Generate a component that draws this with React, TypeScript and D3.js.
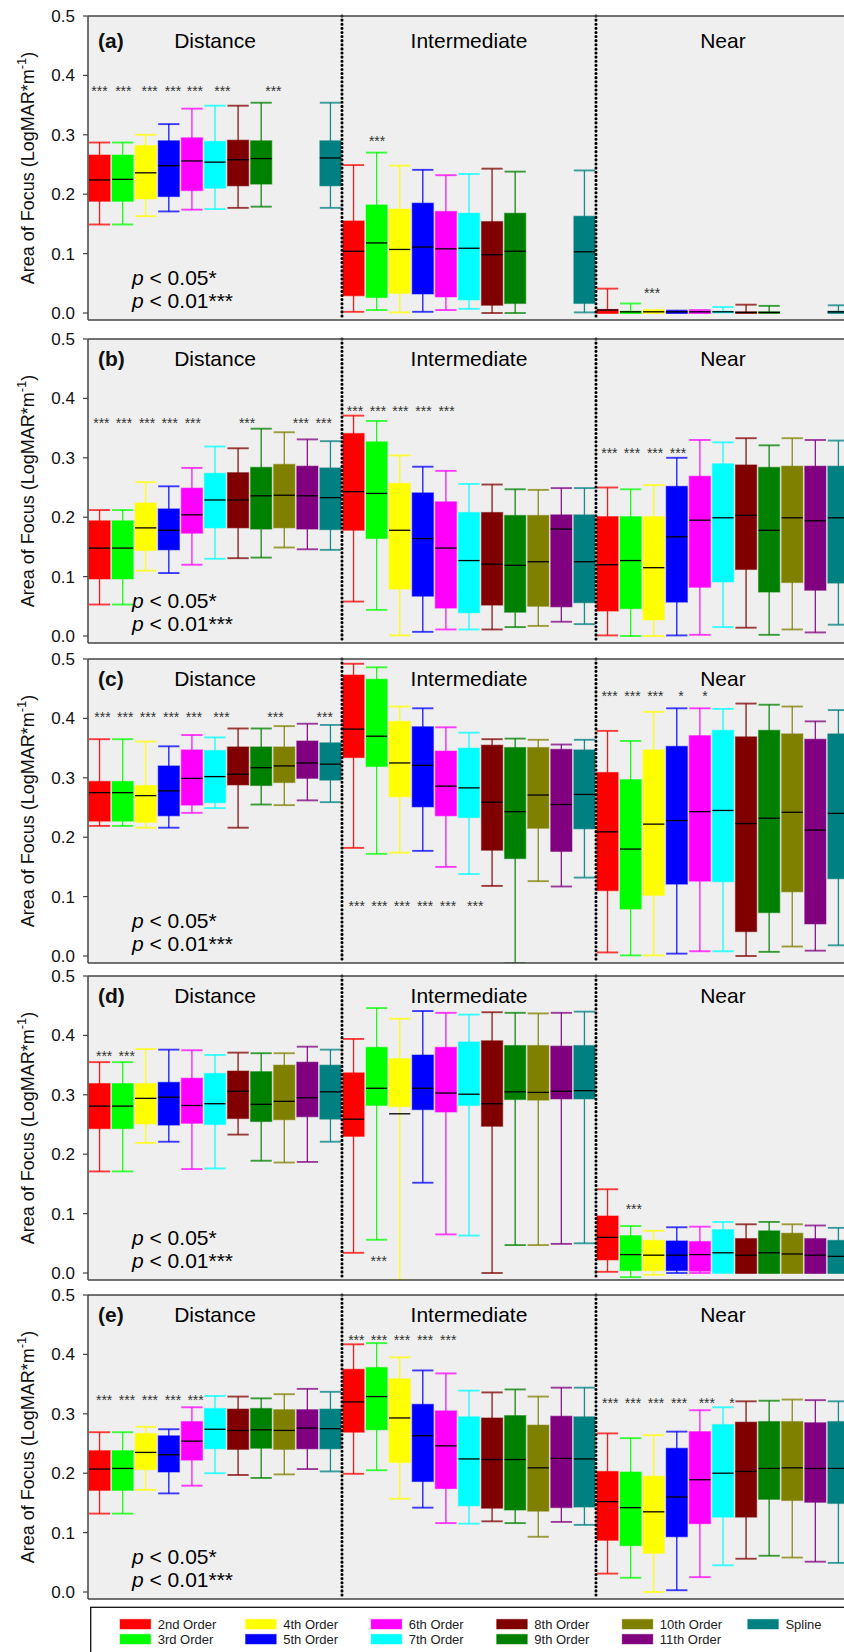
import React from 'react'
import { scaleLinear, scalePoint } from 'd3'

const orders = ['2nd Order', '3rd Order', '4th Order', '5th Order', '6th Order', '7th Order', '8th Order', '9th Order', '10th Order', '11th Order', 'Spline']
const colors = ['#ff0000', '#00ff00', '#ffff00', '#0000ff', '#ff00ff', '#00ffff', '#800000', '#008000', '#808000', '#800080', '#008080']
const groups = ['Distance', 'Intermediate', 'Near']
const yTicks = [0, 0.1, 0.2, 0.3, 0.4, 0.5]

// each box: [lower whisker, q1, median, q3, upper whisker], null = not shown
const aDistance = [
  [0.149, 0.188, 0.224, 0.266, 0.287],
  [0.149, 0.188, 0.225, 0.266, 0.287],
  [0.163, 0.192, 0.236, 0.282, 0.300],
  [0.171, 0.196, 0.248, 0.290, 0.318],
  [0.174, 0.206, 0.256, 0.295, 0.344],
  [0.175, 0.210, 0.254, 0.289, 0.349],
  [0.177, 0.214, 0.258, 0.291, 0.349],
  [0.179, 0.217, 0.260, 0.290, 0.354],
  null, null,
  [0.177, 0.214, 0.261, 0.290, 0.354],
]
const aIntermediate = [
  [0.002, 0.029, 0.104, 0.155, 0.249],
  [0.005, 0.026, 0.118, 0.182, 0.270],
  [0.001, 0.033, 0.107, 0.175, 0.248],
  [0.002, 0.032, 0.111, 0.185, 0.241],
  [0.005, 0.027, 0.108, 0.171, 0.232],
  [0.007, 0.022, 0.109, 0.168, 0.234],
  [0.000, 0.013, 0.098, 0.154, 0.243],
  [0.000, 0.016, 0.104, 0.168, 0.238],
  null, null,
  [0.001, 0.016, 0.103, 0.163, 0.240],
]
const aNear = [
  [0.000, 0.000, 0.005, 0.006, 0.041],
  [0.000, 0.000, 0.002, 0.003, 0.016],
  [0.000, 0.000, 0.002, 0.004, 0.005],
  [0.000, 0.000, 0.002, 0.003, 0.004],
  [0.000, 0.000, 0.002, 0.003, 0.005],
  [0.001, 0.001, 0.002, 0.003, 0.010],
  [0.000, 0.000, 0.001, 0.002, 0.014],
  [0.000, 0.000, 0.001, 0.002, 0.012],
  null, null,
  [0.000, 0.000, 0.002, 0.003, 0.013],
]

const bDistance = [
  [0.053, 0.096, 0.148, 0.194, 0.212],
  [0.053, 0.096, 0.148, 0.194, 0.212],
  [0.110, 0.144, 0.182, 0.224, 0.259],
  [0.106, 0.145, 0.178, 0.214, 0.252],
  [0.120, 0.173, 0.204, 0.249, 0.283],
  [0.130, 0.182, 0.229, 0.274, 0.319],
  [0.131, 0.182, 0.229, 0.275, 0.316],
  [0.132, 0.180, 0.236, 0.284, 0.349],
  [0.149, 0.182, 0.237, 0.289, 0.343],
  [0.146, 0.180, 0.236, 0.286, 0.331],
  [0.145, 0.179, 0.233, 0.283, 0.328],
]
const bIntermediate = [
  [0.058, 0.178, 0.243, 0.341, 0.371],
  [0.044, 0.164, 0.240, 0.327, 0.362],
  [0.001, 0.079, 0.178, 0.257, 0.304],
  [0.007, 0.067, 0.164, 0.241, 0.285],
  [0.011, 0.047, 0.148, 0.226, 0.278],
  [0.011, 0.039, 0.127, 0.208, 0.256],
  [0.011, 0.052, 0.121, 0.208, 0.255],
  [0.015, 0.040, 0.119, 0.203, 0.247],
  [0.017, 0.050, 0.125, 0.203, 0.246],
  [0.024, 0.049, 0.180, 0.204, 0.249],
  [0.020, 0.056, 0.125, 0.204, 0.249],
]
const bNear = [
  [0.001, 0.042, 0.120, 0.201, 0.250],
  [0.000, 0.046, 0.127, 0.201, 0.247],
  [0.000, 0.027, 0.115, 0.201, 0.254],
  [0.001, 0.057, 0.167, 0.252, 0.300],
  [0.002, 0.082, 0.195, 0.269, 0.330],
  [0.015, 0.091, 0.199, 0.290, 0.326],
  [0.014, 0.112, 0.203, 0.288, 0.333],
  [0.002, 0.074, 0.178, 0.284, 0.321],
  [0.011, 0.090, 0.199, 0.286, 0.333],
  [0.006, 0.077, 0.194, 0.286, 0.330],
  [0.019, 0.089, 0.199, 0.286, 0.329],
]

const cDistance = [
  [0.219, 0.227, 0.275, 0.294, 0.365],
  [0.219, 0.227, 0.275, 0.294, 0.365],
  [0.216, 0.225, 0.270, 0.287, 0.361],
  [0.216, 0.236, 0.278, 0.320, 0.353],
  [0.241, 0.254, 0.299, 0.347, 0.372],
  [0.249, 0.258, 0.302, 0.346, 0.368],
  [0.216, 0.288, 0.306, 0.352, 0.383],
  [0.255, 0.287, 0.317, 0.352, 0.383],
  [0.254, 0.292, 0.320, 0.352, 0.387],
  [0.262, 0.299, 0.325, 0.362, 0.391],
  [0.259, 0.296, 0.323, 0.359, 0.389],
]
const cIntermediate = [
  [0.182, 0.334, 0.382, 0.473, 0.492],
  [0.172, 0.319, 0.370, 0.466, 0.486],
  [0.174, 0.268, 0.325, 0.395, 0.420],
  [0.177, 0.251, 0.321, 0.386, 0.417],
  [0.150, 0.236, 0.286, 0.345, 0.385],
  [0.138, 0.233, 0.283, 0.350, 0.376],
  [0.118, 0.178, 0.259, 0.355, 0.365],
  [-0.012, 0.164, 0.243, 0.351, 0.366],
  [0.126, 0.215, 0.271, 0.351, 0.364],
  [0.117, 0.176, 0.255, 0.348, 0.356],
  [0.132, 0.214, 0.272, 0.347, 0.364],
]
const cNear = [
  [0.006, 0.110, 0.209, 0.309, 0.379],
  [0.001, 0.079, 0.180, 0.297, 0.362],
  [0.001, 0.102, 0.222, 0.347, 0.411],
  [0.004, 0.121, 0.228, 0.353, 0.417],
  [0.008, 0.126, 0.243, 0.371, 0.417],
  [0.008, 0.125, 0.245, 0.380, 0.416],
  [0.000, 0.041, 0.223, 0.369, 0.425],
  [0.007, 0.073, 0.232, 0.380, 0.423],
  [0.016, 0.108, 0.242, 0.374, 0.420],
  [0.009, 0.054, 0.212, 0.365, 0.395],
  [0.018, 0.130, 0.240, 0.374, 0.414],
]

const dDistance = [
  [0.171, 0.243, 0.281, 0.319, 0.355],
  [0.171, 0.243, 0.281, 0.319, 0.355],
  [0.219, 0.251, 0.294, 0.319, 0.377],
  [0.221, 0.249, 0.296, 0.321, 0.376],
  [0.175, 0.252, 0.282, 0.328, 0.375],
  [0.176, 0.250, 0.285, 0.336, 0.367],
  [0.233, 0.260, 0.306, 0.340, 0.371],
  [0.189, 0.255, 0.284, 0.339, 0.370],
  [0.186, 0.258, 0.289, 0.350, 0.370],
  [0.187, 0.263, 0.295, 0.355, 0.381],
  [0.221, 0.259, 0.305, 0.350, 0.376],
]
const dIntermediate = [
  [0.034, 0.230, 0.259, 0.337, 0.394],
  [0.056, 0.282, 0.311, 0.380, 0.446],
  [-0.012, 0.280, 0.268, 0.361, 0.428],
  [0.152, 0.275, 0.311, 0.367, 0.441],
  [0.065, 0.271, 0.303, 0.380, 0.438],
  [0.063, 0.282, 0.301, 0.389, 0.435],
  [0.000, 0.247, 0.285, 0.391, 0.439],
  [0.047, 0.292, 0.305, 0.383, 0.438],
  [0.047, 0.291, 0.304, 0.383, 0.437],
  [0.049, 0.293, 0.306, 0.382, 0.438],
  [0.050, 0.293, 0.307, 0.383, 0.440],
]
const dNear = [
  [0.002, 0.022, 0.060, 0.096, 0.141],
  [-0.007, 0.004, 0.031, 0.063, 0.079],
  [-0.003, 0.004, 0.030, 0.055, 0.071],
  [0.000, 0.004, 0.030, 0.054, 0.077],
  [0.000, 0.003, 0.031, 0.053, 0.078],
  [0.000, 0.001, 0.034, 0.073, 0.086],
  [0.000, 0.000, 0.030, 0.058, 0.082],
  [0.000, 0.000, 0.034, 0.071, 0.086],
  [0.000, 0.000, 0.032, 0.067, 0.082],
  [0.000, 0.000, 0.030, 0.058, 0.080],
  [0.000, 0.000, 0.028, 0.055, 0.076],
]

const eDistance = [
  [0.132, 0.171, 0.207, 0.238, 0.269],
  [0.132, 0.171, 0.208, 0.238, 0.269],
  [0.172, 0.206, 0.235, 0.267, 0.278],
  [0.166, 0.202, 0.231, 0.263, 0.274],
  [0.179, 0.222, 0.254, 0.287, 0.311],
  [0.200, 0.241, 0.274, 0.309, 0.330],
  [0.197, 0.240, 0.272, 0.308, 0.329],
  [0.192, 0.242, 0.273, 0.309, 0.326],
  [0.198, 0.240, 0.272, 0.307, 0.333],
  [0.207, 0.241, 0.276, 0.307, 0.342],
  [0.203, 0.241, 0.275, 0.308, 0.337],
]
const eIntermediate = [
  [0.199, 0.269, 0.320, 0.375, 0.417],
  [0.205, 0.273, 0.329, 0.378, 0.419],
  [0.157, 0.218, 0.293, 0.359, 0.395],
  [0.142, 0.186, 0.263, 0.316, 0.373],
  [0.116, 0.174, 0.246, 0.305, 0.368],
  [0.115, 0.145, 0.224, 0.295, 0.339],
  [0.119, 0.141, 0.223, 0.293, 0.336],
  [0.116, 0.138, 0.223, 0.297, 0.341],
  [0.093, 0.136, 0.209, 0.281, 0.329],
  [0.118, 0.142, 0.225, 0.296, 0.344],
  [0.113, 0.143, 0.224, 0.295, 0.344],
]
const eNear = [
  [0.031, 0.087, 0.152, 0.203, 0.267],
  [0.024, 0.078, 0.142, 0.202, 0.259],
  [0.000, 0.065, 0.135, 0.195, 0.264],
  [0.003, 0.093, 0.160, 0.242, 0.270],
  [0.025, 0.115, 0.189, 0.270, 0.306],
  [0.045, 0.126, 0.200, 0.282, 0.311],
  [0.056, 0.126, 0.203, 0.286, 0.321],
  [0.061, 0.156, 0.208, 0.287, 0.322],
  [0.058, 0.154, 0.209, 0.287, 0.324],
  [0.051, 0.151, 0.208, 0.285, 0.323],
  [0.049, 0.149, 0.208, 0.287, 0.321],
]

// significance marks: [group, position (box index), height, label]
const aStars = [
  [0, 0, 0.379, '***'], [0, 1.03, 0.379, '***'], [0, 2.17, 0.379, '***'], [0, 3.18, 0.379, '***'],
  [0, 4.13, 0.379, '***'], [0, 5.32, 0.379, '***'], [0, 7.53, 0.379, '***'],
  [1, 1.02, 0.295, '***'],
  [2, 1.93, 0.039, '***'],
]
const bStars = [
  [0, 0.08, 0.363, '***'], [0, 1.06, 0.363, '***'], [0, 2.06, 0.363, '***'], [0, 3.04, 0.363, '***'],
  [0, 4.04, 0.363, '***'], [0, 6.39, 0.363, '***'], [0, 8.72, 0.363, '***'], [0, 9.71, 0.363, '***'],
  [1, 0.06, 0.384, '***'], [1, 1.06, 0.384, '***'], [1, 2.03, 0.384, '***'], [1, 3.03, 0.384, '***'], [1, 4.03, 0.384, '***'],
  [2, 0.08, 0.313, '***'], [2, 1.06, 0.313, '***'], [2, 2.06, 0.313, '***'], [2, 3.05, 0.313, '***'],
]
const cStars = [
  [0, 0.13, 0.408, '***'], [0, 1.11, 0.408, '***'], [0, 2.1, 0.408, '***'], [0, 3.1, 0.408, '***'],
  [0, 4.09, 0.408, '***'], [0, 5.28, 0.408, '***'], [0, 7.62, 0.408, '***'], [0, 9.75, 0.408, '***'],
  [1, 0.14, 0.089, '***'], [1, 1.12, 0.089, '***'], [1, 2.1, 0.089, '***'], [1, 3.1, 0.089, '***'],
  [1, 4.09, 0.089, '***'], [1, 5.27, 0.089, '***'],
  [2, 0.09, 0.442, '***'], [2, 1.08, 0.442, '***'], [2, 2.07, 0.442, '***'], [2, 3.18, 0.442, '*'], [2, 4.22, 0.442, '*'],
]
const dStars = [
  [0, 0.2, 0.371, '***'], [0, 1.18, 0.371, '***'],
  [1, 1.09, 0.025, '***'],
  [2, 1.14, 0.113, '***'],
]
const eStars = [
  [0, 0.2, 0.328, '***'], [0, 1.19, 0.328, '***'], [0, 2.18, 0.328, '***'], [0, 3.18, 0.328, '***'], [0, 4.16, 0.328, '***'],
  [1, 0.12, 0.43, '***'], [1, 1.1, 0.43, '***'], [1, 2.1, 0.43, '***'], [1, 3.1, 0.43, '***'], [1, 4.1, 0.43, '***'],
  [2, 0.12, 0.3225, '***'], [2, 1.1, 0.3225, '***'], [2, 2.1, 0.3225, '***'], [2, 3.1, 0.3225, '***'],
  [2, 4.3, 0.3225, '***'], [2, 5.39, 0.3225, '*'],
]

const legendColumns = [[0, 1], [2, 3], [4, 5], [6, 7], [8, 9], [10]]

const W = 844
const H = 1652
const FONT = "'Liberation Sans', Arial, Helvetica, sans-serif"
const plotLeft = 88
const slotW = 23.09
const nSlots = 33
const plotH = 304
const zeroOff = 297

const panels = [
  { tag: '(a)', top: 16, titleDy: 32, boxes: [aDistance, aIntermediate, aNear], stars: aStars },
  { tag: '(b)', top: 339, titleDy: 27, boxes: [bDistance, bIntermediate, bNear], stars: bStars },
  { tag: '(c)', top: 659, titleDy: 27, boxes: [cDistance, cIntermediate, cNear], stars: cStars },
  { tag: '(d)', top: 976, titleDy: 27, boxes: [dDistance, dIntermediate, dNear], stars: dStars },
  { tag: '(e)', top: 1295, titleDy: 27, boxes: [eDistance, eIntermediate, eNear], stars: eStars },
]

const x = scaleLinear().domain([0, nSlots]).range([plotLeft, plotLeft + nSlots * slotW])
const bw = slotW * 0.92

function Panel({ idx, tag, top, titleDy, boxes, stars }) {
  const y = scaleLinear().domain([0, 0.5]).range([top + zeroOff, top])
  const right = x(nSlots)
  const clipId = `clip-${idx}`
  return (
    <g>
      <defs>
        <clipPath id={clipId}>
          <rect x={plotLeft} y={top} width={right - plotLeft} height={plotH} />
        </clipPath>
      </defs>
      <rect x={plotLeft} y={top} width={right - plotLeft} height={plotH} fill="#efefef" />

      <g clipPath={`url(#${clipId})`}>
        {boxes.map((grp, g) =>
          grp.map((s, i) => {
            if (!s) return null
            const [lo, q1, med, q3, hi] = s
            const cx = x(g * 11 + i + 0.5)
            const c = colors[i]
            return (
              <g key={`${g}-${i}`}>
                <line x1={cx} x2={cx} y1={y(lo)} y2={y(hi)} stroke={c} strokeWidth={1.3} strokeOpacity={0.9} />
                <line x1={cx - bw / 2} x2={cx + bw / 2} y1={y(hi)} y2={y(hi)} stroke={c} strokeWidth={1.9} strokeOpacity={0.75} />
                <line x1={cx - bw / 2} x2={cx + bw / 2} y1={y(lo)} y2={y(lo)} stroke={c} strokeWidth={1.9} strokeOpacity={0.75} />
                <rect x={cx - bw / 2} y={y(q3)} width={bw} height={Math.max(0.5, y(q1) - y(q3))} fill={c} stroke={c} strokeOpacity={0.45} strokeWidth={1.2} />
                <line x1={cx - bw / 2} x2={cx + bw / 2} y1={y(med)} y2={y(med)} stroke="#000" strokeWidth={1.3} />
              </g>
            )
          })
        )}
      </g>

      {[1, 2].map(k => (
        <line key={k} x1={x(k * 11)} x2={x(k * 11)} y1={top} y2={top + plotH} stroke="#000" strokeWidth={3.1} strokeDasharray="0.01 4.1" strokeLinecap="round" />
      ))}

      <line x1={plotLeft} x2={W} y1={top} y2={top} stroke="#444" strokeWidth={1.5} />
      <line x1={plotLeft} x2={W} y1={top + plotH} y2={top + plotH} stroke="#444" strokeWidth={1.5} />
      <line x1={plotLeft} x2={plotLeft} y1={top} y2={top + plotH} stroke="#444" strokeWidth={1.5} />

      {yTicks.map(t => (
        <g key={t}>
          <line x1={plotLeft - 5} x2={plotLeft} y1={y(t)} y2={y(t)} stroke="#444" strokeWidth={1.2} />
          <text x={plotLeft - 13} y={y(t) + 6} textAnchor="end" fontSize={17} fill="#111">{t.toFixed(1)}</text>
        </g>
      ))}

      <text transform={`translate(34,${top + plotH / 2}) rotate(-90)`} textAnchor="middle" fontSize={18} fill="#111">
        Area of Focus (LogMAR*m<tspan fontSize={13} dy={-8}>-1</tspan><tspan dy={8}>)</tspan>
      </text>

      <text x={98} y={top + titleDy} fontSize={21} fontWeight="bold" fill="#111">{tag}</text>
      {groups.map((name, g) => (
        <text key={name} x={x(g * 11 + 5.5)} y={top + titleDy} textAnchor="middle" fontSize={21} fill="#000">{name}</text>
      ))}

      {stars.map(([g, pos, lvl, lab], k) => (
        <text key={k} x={x(g * 11 + pos + 0.5)} y={y(lvl) + 8} textAnchor="middle" fontSize={14} fill="#333">{lab}</text>
      ))}

      <text x={132} y={top + 269} fontSize={21} fill="#000">
        <tspan fontStyle="italic">p</tspan> &lt; 0.05*
      </text>
      <text x={132} y={top + 292} fontSize={21} fill="#000">
        <tspan fontStyle="italic">p</tspan> &lt; 0.01***
      </text>
    </g>
  )
}

function Legend() {
  const top = 1607.3
  const col = scalePoint().domain(legendColumns.map((_, i) => String(i))).range([120, 747.7])
  return (
    <g>
      <rect x={90.7} y={top} width={W} height={80} fill="#fff" stroke="#111" strokeWidth={1.3} />
      {legendColumns.map((items, ci) =>
        items.map((oi, r) => {
          const sx = col(String(ci))
          const sy = 1619.3 + r * 15
          return (
            <g key={oi}>
              <rect x={sx} y={sy} width={30.7} height={9.7} fill={colors[oi]} stroke={colors[oi]} strokeOpacity={0.45} />
              <text x={sx + 37.7} y={sy + 9.2} fontSize={13} fill="#222">{orders[oi]}</text>
            </g>
          )
        })
      )}
    </g>
  )
}

export default function App() {
  return (
    <svg width={W} height={H} style={{ position: 'absolute', left: 0, top: 0, background: '#fff' }} fontFamily={FONT}>
      <rect width={W} height={H} fill="#fff" />
      {panels.map((p, i) => (
        <Panel key={p.tag} idx={i} {...p} />
      ))}
      <Legend />
    </svg>
  )
}
